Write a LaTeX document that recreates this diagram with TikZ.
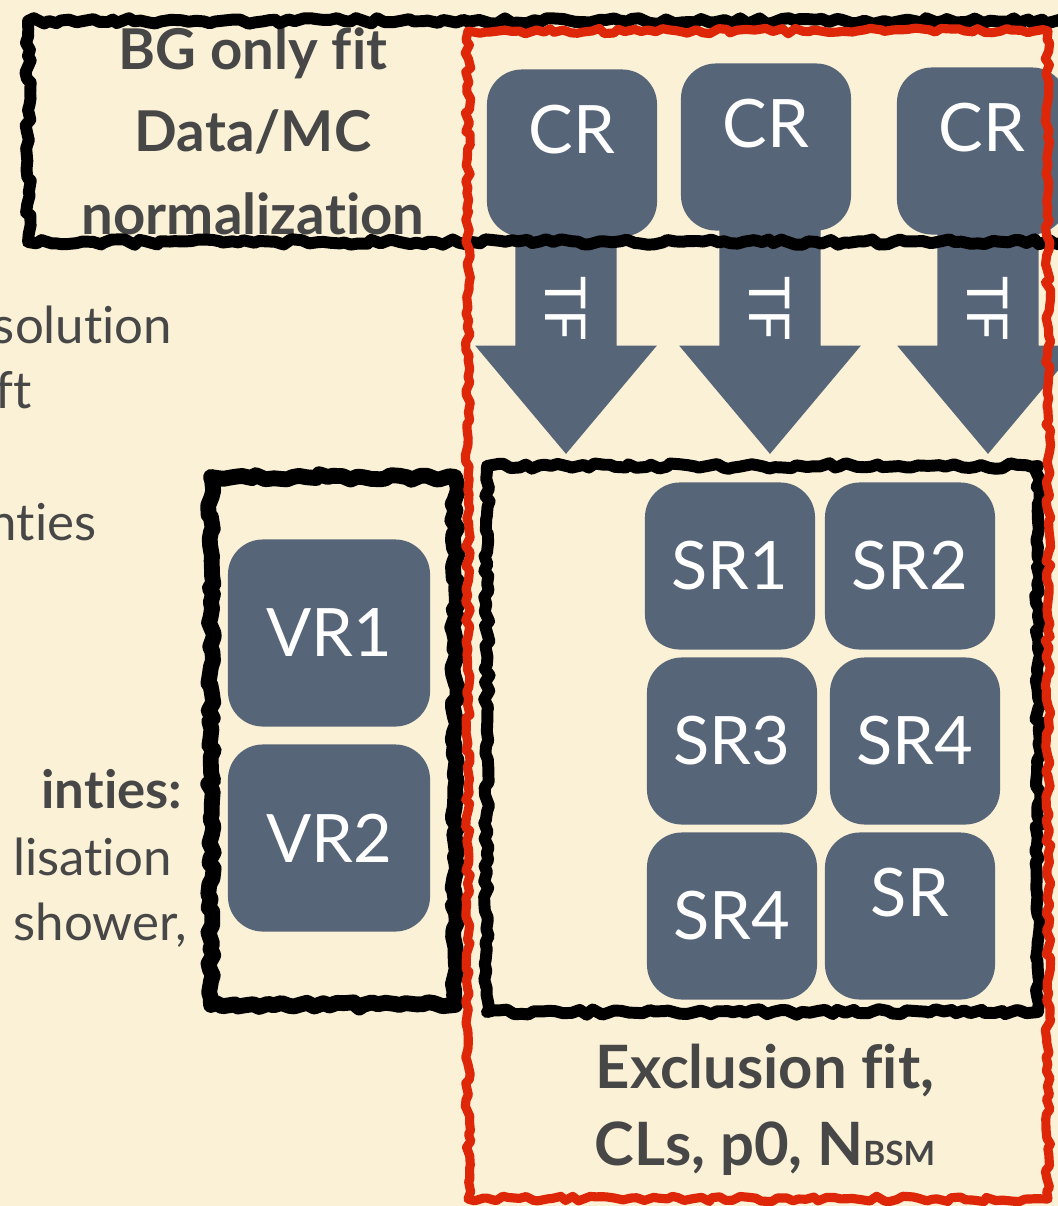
\documentclass[tikz,border=0pt]{standalone}
\usepackage{fontspec}
\setmainfont{Lato}[Ligatures=NoCommon]
\usetikzlibrary{shapes.arrows,decorations.pathmorphing}
\definecolor{paper}{RGB}{250,241,214}
\definecolor{slate}{RGB}{87,101,121}
\definecolor{ink}{RGB}{71,71,71}
\definecolor{marker}{RGB}{222,38,8}
\tikzset{region/.style={rectangle,rounded corners=0.35cm,fill=slate,text=white,
    minimum width=1.7cm,minimum height=1.67cm,font=\fontsize{19}{22}\selectfont},
  raised/.style={region,text height=0.5cm,text depth=0.5cm},
  tfarrow/.style={single arrow,fill=slate,text=white,rotate=-90,anchor=tip,
    minimum height=2.3cm,single arrow head extend=0.4cm,single arrow tip angle=80,
    text height=0.41cm,text depth=0pt,inner ysep=0.295cm,font=\fontsize{16}{18}\selectfont},
  sketch/.style={line width=3.4pt,line join=round,decorate,
    decoration={random steps,segment length=2pt,amplitude=0.8pt}},
  caption/.style={text=ink,align=center,font=\bfseries\fontsize{16}{23.5}\selectfont},
  sidenote/.style={text=ink,anchor=base east,inner sep=0pt,font=\fontsize{14.5}{18}\selectfont}}

\begin{document}
\begin{tikzpicture}[x=0.01cm, y=-0.01cm]
\useasboundingbox (0,0) rectangle (1058,1206);
\clip (0,0) rectangle (1058,1206);
\fill[paper] (0,0) rectangle (1058,1206);

% cut off list on the left
\node[sidenote] (s1) at (173,343) {solution};
\node[sidenote] (s2) at (32,408) {ft};
\node[sidenote] (s3) at (97,540) {nties};
\node[sidenote,font=\bfseries\fontsize{15}{18}\selectfont] (s4) at (183,808) {inties:};
\node[sidenote] (s5) at (173,875) {lisation};
\node[sidenote] (s6) at (188,940) {shower,};

% transfer factor arrows
\node[tfarrow] (tf1) at (566,455) {TF};
\node[tfarrow] (tf2) at (770,455) {TF};
\node[tfarrow] (tf3) at (988,455) {TF};

% control regions
\node[raised] (cr1) at (572,153) {CR};
\node[raised] (cr2) at (766,147) {CR};
\node[raised] (cr3) at (982,151) {CR};

% signal regions
\node[region] (sr1) at (730,566) {SR1};
\node[region] (sr2) at (910,566) {SR2};
\node[region] (sr3) at (732,741) {SR3};
\node[region] (sr4) at (915,741) {SR4};
\node[region] (sr5) at (732,916) {SR4};
\node[raised] (sr6) at (910,916) {SR};

% validation regions
\node[region,minimum width=2.02cm,minimum height=1.87cm] (vr1) at (329,633) {VR1};
\node[region,minimum width=2.02cm,minimum height=1.87cm] (vr2) at (329,838) {VR2};

\node[caption] (bgfit) at (253,131) {BG only fit\\Data/MC\\normalization};
\node[caption,font=\bfseries\fontsize{17}{22}\selectfont] (exclfit) at (765,1110) {Exclusion fit,\\CLs, p0, N{\fontsize{9.5}{9.5}\selectfont BSM}};

% hand drawn frames
\draw[sketch] (28,21) rectangle (1090,242);
\draw[sketch] (487,466) rectangle (1038,1012);
\draw[sketch,line width=4.5pt] (211,477) rectangle (455,1005);
\draw[sketch,marker,line width=2.6pt] (468,31) rectangle (1048,1199);
\end{tikzpicture}
\end{document}
